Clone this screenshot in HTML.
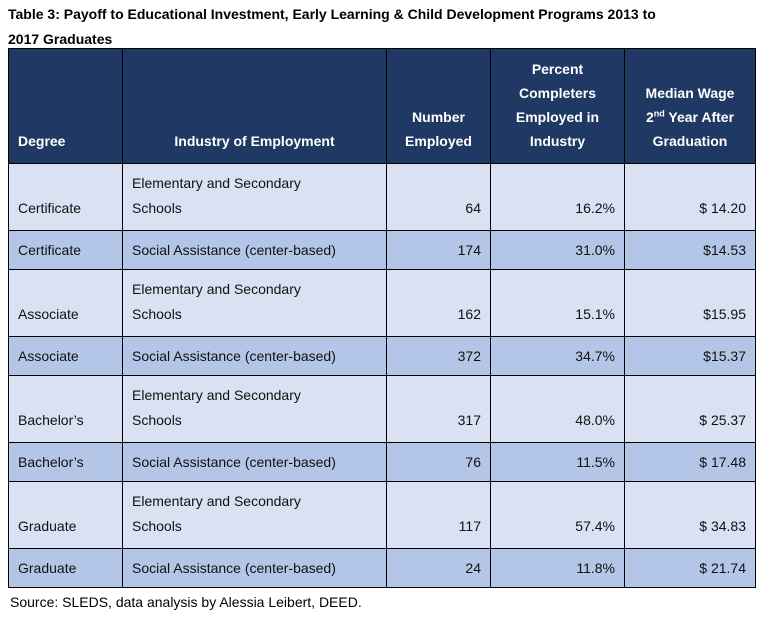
<!DOCTYPE html><html><head><style>
body{margin:0;width:763px;height:617px;background:#fff;font-family:"Liberation Sans",sans-serif;position:relative;overflow:hidden}
.t{position:absolute;left:8px;top:2px;font-weight:bold;font-size:14px;line-height:25px;color:#000}
table{position:absolute;left:8px;top:48px;border-collapse:collapse;font-size:14px;color:#111}
td{border:1px solid #000;padding:0 9px;vertical-align:bottom}
th{background:#203864;color:#fff;font-weight:bold;border:1px solid #000;height:104px;vertical-align:bottom;padding:0 6px 10px;line-height:24px;text-align:center}
th.l{text-align:left;padding-left:9px}
.a td{background:#d9e1f2;height:57px;line-height:25px;padding-bottom:9px}
.b td{background:#b4c6e7;height:38px;vertical-align:middle;line-height:20px}
.r{text-align:right}
.s{position:absolute;left:10px;top:594px;font-size:14px}
</style></head><body>
<div class="t">Table 3: Payoff to Educational Investment, Early Learning &amp; Child Development Programs 2013 to<br>2017 Graduates</div>
<table>
<tr><th class="l" style="width:98px">Degree</th><th style="width:251px">Industry of Employment</th><th style="width:91px">Number<br>Employed</th><th style="width:121px">Percent<br>Completers<br>Employed in<br>Industry</th><th style="width:118px">Median Wage<br>2<sup style="font-size:9px;line-height:0">nd</sup> Year After<br>Graduation</th></tr>
<tr class="a"><td>Certificate</td><td>Elementary and Secondary<br>Schools</td><td class="r">64</td><td class="r">16.2%</td><td class="r">$ 14.20</td></tr>
<tr class="b"><td>Certificate</td><td>Social Assistance (center-based)</td><td class="r">174</td><td class="r">31.0%</td><td class="r">$14.53</td></tr>
<tr class="a"><td>Associate</td><td>Elementary and Secondary<br>Schools</td><td class="r">162</td><td class="r">15.1%</td><td class="r">$15.95</td></tr>
<tr class="b"><td>Associate</td><td>Social Assistance (center-based)</td><td class="r">372</td><td class="r">34.7%</td><td class="r">$15.37</td></tr>
<tr class="a"><td>Bachelor’s</td><td>Elementary and Secondary<br>Schools</td><td class="r">317</td><td class="r">48.0%</td><td class="r">$ 25.37</td></tr>
<tr class="b"><td>Bachelor’s</td><td>Social Assistance (center-based)</td><td class="r">76</td><td class="r">11.5%</td><td class="r">$ 17.48</td></tr>
<tr class="a"><td>Graduate</td><td>Elementary and Secondary<br>Schools</td><td class="r">117</td><td class="r">57.4%</td><td class="r">$ 34.83</td></tr>
<tr class="b"><td>Graduate</td><td>Social Assistance (center-based)</td><td class="r">24</td><td class="r">11.8%</td><td class="r">$ 21.74</td></tr>
</table>
<div class="s">Source: SLEDS, data analysis by Alessia Leibert, DEED.</div>
</body></html>
